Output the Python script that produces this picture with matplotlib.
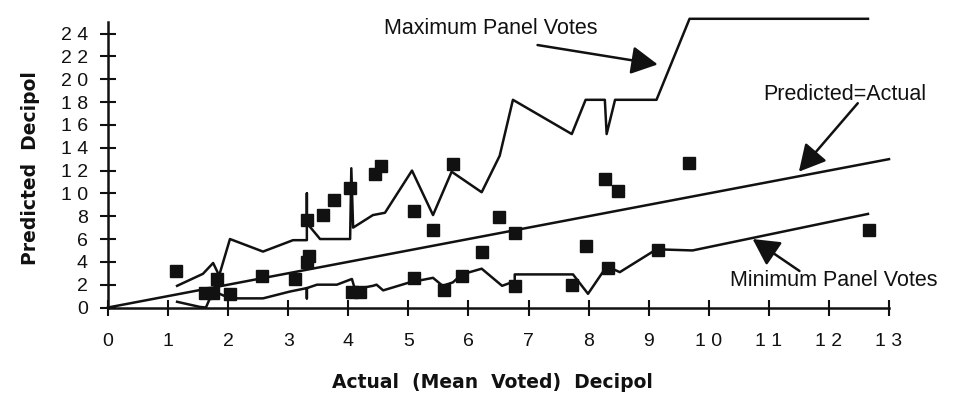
#!/usr/bin/env python
# -*- coding: utf-8 -*-

"""Predicted vs actual (mean voted) decipol, with the panel min/max envelope."""

import matplotlib

matplotlib.use("Agg")
import matplotlib.pyplot as plt

# scatter of predicted vs actual
actual = [1.13, 1.61, 1.75, 1.81, 2.03, 2.56, 3.11, 3.31, 3.35, 3.31, 3.58,
          3.76, 4.03, 4.06, 4.19, 4.44, 4.54, 5.09, 5.41, 5.74, 6.51, 6.77,
          6.22, 5.09, 5.59, 5.89, 6.77, 7.72, 7.95, 8.27, 8.49, 9.67, 8.32,
          9.15, 12.66]
predicted = [3.2, 1.3, 1.3, 2.5, 1.2, 2.8, 2.5, 4.0, 4.5, 7.7, 8.1,
             9.4, 10.5, 1.4, 1.4, 11.7, 12.4, 8.5, 6.8, 12.6, 7.9, 6.5,
             4.9, 2.6, 1.5, 2.8, 1.9, 2.0, 5.4, 11.3, 10.2, 12.7, 3.5,
             5.0, 6.8]

# maximum panel votes
max_x = [1.15, 1.58, 1.75, 1.85, 2.03, 2.58, 3.08, 3.31, 3.31, 3.31, 3.53,
         4.03, 4.05, 4.08, 4.41, 4.61, 5.06, 5.41, 5.72, 6.22, 6.52, 6.74,
         7.72, 7.95, 8.27, 8.30, 8.44, 9.13, 9.68, 12.65]
max_y = [1.9, 2.95, 3.9, 2.8, 6.0, 4.9, 5.9, 5.9, 10.0, 7.4, 6.0,
         6.0, 12.2, 7.0, 8.1, 8.3, 12.0, 8.1, 11.9, 10.1, 13.3, 18.2,
         15.2, 18.2, 18.2, 15.2, 18.2, 18.2, 25.3, 25.3]

# minimum panel votes
min_x = [1.15, 1.53, 1.63, 1.75, 2.03, 2.58, 3.03, 3.31, 3.31, 3.31, 3.48,
         3.81, 4.06, 4.11, 4.41, 4.47, 4.58, 5.02, 5.41, 5.57, 5.74, 5.89,
         6.22, 6.56, 6.77, 6.77, 7.74, 7.99, 8.30, 8.52, 9.13, 9.73, 12.65]
min_y = [0.5, 0.05, 0.0, 1.45, 0.8, 0.8, 1.4, 1.7, 0.8, 1.7, 2.0,
         2.0, 2.5, 1.6, 1.9, 2.0, 1.5, 2.2, 2.6, 1.9, 2.2, 2.9,
         3.4, 1.9, 2.3, 2.9, 2.9, 1.2, 3.6, 3.1, 5.1, 5.0, 8.2]

# predicted = actual reference line
ident_x = [0, 13]
ident_y = [0, 13]

x_ticks = list(range(0, 14))
y_ticks = list(range(0, 25, 2))

INK = "#111111"
LW = 1.8

fig = plt.figure(figsize=(9.6, 3.94), dpi=100)
ax = fig.add_axes([108 / 960, 86.5 / 394, 781 / 960, 296.7 / 394])

ax.plot(ident_x, ident_y, color=INK, lw=LW, clip_on=False)
ax.plot(max_x, max_y, color=INK, lw=LW, clip_on=False)
ax.plot(min_x, min_y, color=INK, lw=LW, clip_on=False)
ax.plot(actual, predicted, "s", color=INK, ms=8.7, mec=INK, clip_on=False,
        zorder=3)

ax.set_xlim(0, 13)
ax.set_ylim(0, 26)

for side in ["top", "right"]:
    ax.spines[side].set_visible(False)
ax.spines["left"].set_bounds(0, 25)
ax.spines["bottom"].set_bounds(0, 13)
for side in ["left", "bottom"]:
    ax.spines[side].set_linewidth(1.8)
    ax.spines[side].set_color(INK)

ax.set_xticks(x_ticks)
ax.set_xticklabels([" ".join(str(v)) for v in x_ticks])
ax.set_yticks(y_ticks)
ax.set_yticklabels([" ".join(str(v)) for v in y_ticks])
ax.tick_params(axis="both", direction="inout", length=11, width=1.5,
               color=INK, labelcolor=INK)
ax.tick_params(axis="x", pad=13)
ax.tick_params(axis="y", pad=9)
for lab in ax.get_xticklabels() + ax.get_yticklabels():
    lab.set_fontfamily("Liberation Sans")
    lab.set_fontsize(14)

fig.text(492 / 960, 1 - 383 / 394, "Actual  (Mean  Voted)  Decipol",
         ha="center", va="center", fontsize=13.5, fontweight="bold",
         family="DejaVu Sans", color=INK)
fig.text(31 / 960, 1 - 168 / 394, "Predicted  Decipol", rotation=90,
         ha="center", va="center", fontsize=13.5, fontweight="bold",
         family="DejaVu Sans", color=INK)

arrow = dict(arrowstyle="-|>,head_length=0.6,head_width=0.32",
             mutation_scale=27, lw=LW, color=INK, shrinkA=0, shrinkB=0)
note_font = dict(family="Liberation Sans", fontsize=15.5, color=INK)

ax.text(6.37, 23.95, "Maximum Panel Votes", ha="center", va="baseline",
        **note_font)
ax.annotate("", xy=(9.15, 21.3), xytext=(7.15, 23.0), arrowprops=arrow,
            annotation_clip=False)

ax.text(12.26, 18.2, "Predicted=Actual", ha="center", va="baseline",
        **note_font)
ax.annotate("", xy=(11.5, 11.9), xytext=(12.48, 17.9), arrowprops=arrow,
            annotation_clip=False)

ax.text(12.08, 1.88, "Minimum Panel Votes", ha="center", va="baseline",
        **note_font)
ax.annotate("", xy=(10.73, 6.0), xytext=(11.51, 3.2), arrowprops=arrow,
            annotation_clip=False)

fig.savefig("out.png", dpi=100)
